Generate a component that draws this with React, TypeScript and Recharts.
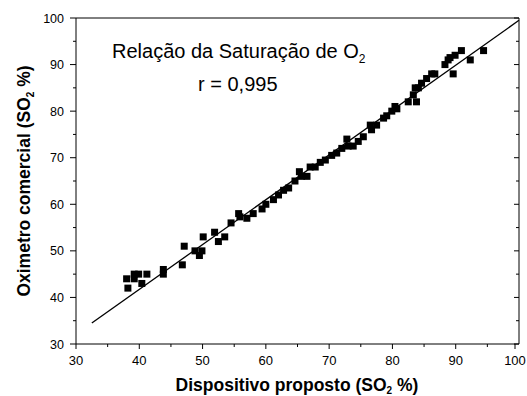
import React from 'react';
import { ScatterChart, Scatter, XAxis, YAxis, ReferenceLine } from 'recharts';

// Dispositivo proposto (SO2 %)
const xValues = [
  38.0, 38.2, 39.2, 39.9, 39.2, 40.4, 41.2, 43.8, 43.8, 46.8,
  47.1, 48.8, 49.5, 49.9, 50.1, 51.9, 52.5, 53.5, 54.5, 55.7,
  55.9, 57.0, 58.0, 59.4, 60.0, 61.2, 62.0, 62.8, 63.6, 64.6,
  65.3, 65.6, 66.5, 67.0, 67.8, 68.6, 69.4, 70.4, 71.2, 72.0,
  72.8, 73.0, 73.8, 74.6, 75.4, 76.5, 76.7, 77.5, 78.6, 79.1,
  79.9, 80.4, 80.7, 82.5, 83.3, 83.8, 83.6, 84.1, 84.6, 85.4,
  86.2, 86.7, 88.3, 88.8, 89.1, 89.6, 89.9, 90.9, 92.3, 94.4,
];
// Oximetro comercial (SO2 %)
const yValues = [
  44, 42, 45, 45, 44, 43, 45, 46, 45, 47,
  51, 50, 49, 50, 53, 54, 52, 53, 56, 58,
  57.3, 57, 58, 59, 60, 61, 62, 63, 63.5, 65,
  67, 66, 66, 68, 68, 69, 69.5, 70.5, 71, 72,
  74, 72.5, 72.5, 73.5, 74.5, 77, 76, 77, 78.5, 79,
  80, 81, 80.5, 82, 83.5, 82, 85, 85, 86, 87,
  88, 88, 90, 91, 91.5, 88, 92, 93, 91, 93,
];
// regression line end points
const fitX = [32.5, 100];
const fitY = [34.5, 99.5];
const axisTicks = [30, 35, 40, 45, 50, 55, 60, 65, 70, 75, 80, 85, 90, 95, 100];
const title = 'Relação da Saturação de O';
const rText = 'r = 0,995';

const data = xValues.map((x, i) => ({ x, y: yValues[i] }));
const FONT = '"Liberation Sans", Arial, sans-serif';

const isMajor = (v: number) => v % 10 === 0;

const BottomTick = (p: any) => {
  const v = p.payload.value;
  const len = isMajor(v) ? 5 : 3;
  return (
    <g>
      <line x1={p.x} x2={p.x} y1={p.y} y2={p.y + len} stroke="#000" strokeWidth={1} />
      {isMajor(v) && (
        <text x={p.x} y={p.y + 21} textAnchor="middle" fontSize={13} fontFamily={FONT} fill="#000">{v}</text>
      )}
    </g>
  );
};
const TopTick = (p: any) => {
  const v = p.payload.value;
  const len = isMajor(v) ? 5 : 3;
  return <line x1={p.x} x2={p.x} y1={p.y} y2={p.y + len} stroke="#000" strokeWidth={1} />;
};
const LeftTick = (p: any) => {
  const v = p.payload.value;
  const len = isMajor(v) ? 6 : 3;
  return (
    <g>
      <line x1={p.x - len} x2={p.x} y1={p.y} y2={p.y} stroke="#000" strokeWidth={1} />
      {isMajor(v) && (
        <text x={p.x - 12} y={p.y + 4.5} textAnchor="end" fontSize={12.5} fontFamily={FONT} fill="#000">{v}</text>
      )}
    </g>
  );
};
const RightTick = (p: any) => {
  const v = p.payload.value;
  const len = isMajor(v) ? 5 : 3;
  return <line x1={p.x - len} x2={p.x} y1={p.y} y2={p.y} stroke="#000" strokeWidth={1} />;
};

const Square = (p: any) => (
  <rect x={p.cx - 3.5} y={p.cy - 3.5} width={7} height={7} fill="#000" />
);

export default function App() {
  return (
    <div style={{ position: 'absolute', left: 0, top: 0, width: 527, height: 396, background: '#fff', overflow: 'hidden' }}>
      <ScatterChart width={527} height={396} margin={{ top: 0, right: 0, bottom: 0, left: 0 }}>
        <XAxis dataKey="x" type="number" domain={[30, 100]} ticks={axisTicks} allowDataOverflow
          height={52} tickSize={0} tickMargin={0} tick={<BottomTick />} axisLine={{ stroke: '#000' }} />
        <XAxis xAxisId="top" orientation="top" type="number" domain={[30, 100]} ticks={axisTicks} allowDataOverflow
          height={18} tickSize={0} tickMargin={0} tick={<TopTick />} axisLine={{ stroke: '#000' }} />
        <YAxis dataKey="y" type="number" domain={[30, 100]} ticks={axisTicks} allowDataOverflow
          width={76} tickSize={0} tickMargin={0} tick={<LeftTick />} axisLine={{ stroke: '#000' }} />
        <YAxis yAxisId="right" orientation="right" type="number" domain={[30, 100]} ticks={axisTicks} allowDataOverflow
          width={8} tickSize={0} tickMargin={0} tick={<RightTick />} axisLine={{ stroke: '#000' }} />
        <ReferenceLine segment={[{ x: fitX[0], y: fitY[0] }, { x: fitX[1], y: fitY[1] }]}
          stroke="#000" strokeWidth={1.3} ifOverflow="visible" />
        <Scatter data={data} shape={<Square />} isAnimationActive={false} />
      </ScatterChart>
      <svg width={527} height={396} style={{ position: 'absolute', left: 0, top: 0, pointerEvents: 'none' }}>
        <text x={112} y={58} fontSize={20} fontFamily={FONT} fill="#000">
          {title}<tspan fontSize={12} dy={5}>2</tspan>
        </text>
        <text x={198} y={91} fontSize={20} fontFamily={FONT} fill="#000">{rText}</text>
        <text x={297} y={391} textAnchor="middle" fontSize={17.5} fontWeight="bold" fontFamily={FONT} fill="#000">
          Dispositivo proposto (SO<tspan fontSize={10} dy={2.5}>2</tspan><tspan dy={-2.5}> %)</tspan>
        </text>
        <text x={0} y={0} transform="translate(30,181) rotate(-90)" textAnchor="middle" fontSize={17.5} fontWeight="bold" fontFamily={FONT} fill="#000">
          Oximetro comercial (SO<tspan fontSize={10} dy={4}>2</tspan><tspan dy={-4}> %)</tspan>
        </text>
      </svg>
    </div>
  );
}
